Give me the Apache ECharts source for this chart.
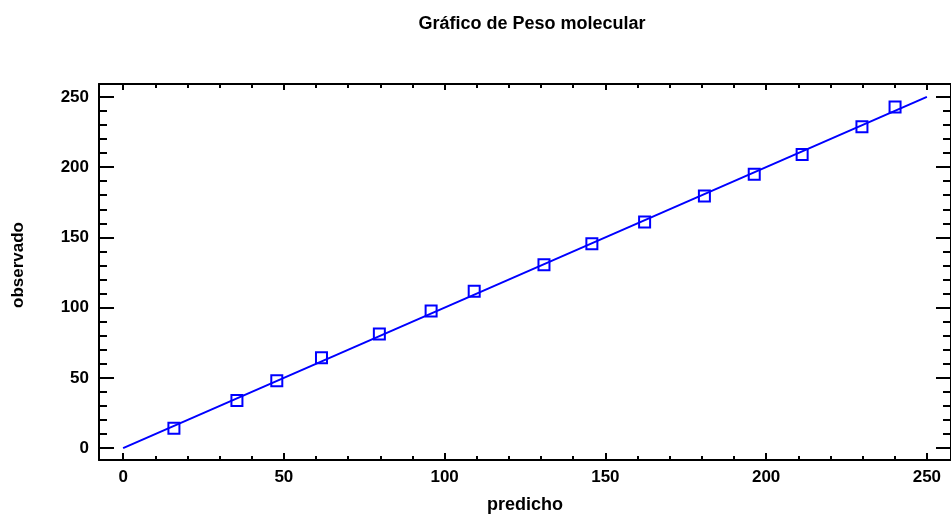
<!DOCTYPE html>
<html>
<head>
<meta charset="utf-8">
<script src="https://cdn.jsdelivr.net/npm/echarts@6/dist/echarts.min.js"></script>
<style>html,body{margin:0;padding:0;background:#fff;}#c{width:951px;height:519px;}</style>
</head>
<body>
<div id="c"></div>
<script>
// Data
var predicho = [15.8, 35.4, 47.8, 61.7, 79.7, 95.8, 109.2, 130.9, 145.8, 162.2, 180.8, 196.3, 211.2, 229.8, 240.1];
var observado = [14.1, 33.9, 48.0, 64.3, 81.2, 97.5, 111.6, 130.6, 145.5, 161.0, 179.4, 194.9, 209.0, 228.8, 242.9];
var fitX = [0, 250];
var fitY = [0, 250];
var majorTicks = [0, 50, 100, 150, 200, 250];
var minorTicks = [10, 20, 30, 40, 60, 70, 80, 90, 110, 120, 130, 140, 160, 170, 180, 190, 210, 220, 230, 240];

var FONT = 'Liberation Sans, Arial, sans-serif';
var XMIN = -7.5, XMAX = 257.5, YMIN = -8.5, YMAX = 259.2;

function axis(dim, pos, ticks, len, showLine, labels, extra) {
  var a = {
    type: 'value', position: pos, min: dim === 'x' ? XMIN : YMIN, max: dim === 'x' ? XMAX : YMAX,
    splitLine: {show: false},
    axisLine: {show: showLine, onZero: false, lineStyle: {color: '#000', width: 2}},
    axisTick: {show: true, inside: true, length: len, customValues: ticks, lineStyle: {color: '#000', width: 2}},
    axisLabel: labels ? {show: true, customValues: majorTicks, fontFamily: FONT, fontWeight: 'bold', fontSize: 17, color: '#000', margin: dim === 'x' ? 9 : 10} : {show: false}
  };
  if (extra) for (var k in extra) a[k] = extra[k];
  return a;
}

var chart = echarts.init(document.getElementById('c'));
chart.setOption({
  animation: false,
  title: {
    text: 'Gráfico de Peso molecular', left: 527, top: 10, textAlign: 'center',
    textStyle: {fontFamily: FONT, fontWeight: 'bold', fontSize: 18, color: '#000'}
  },
  grid: {left: 99, top: 84, width: 854, height: 379, containLabel: false},
  xAxis: [
    axis('x', 'bottom', majorTicks, 7, true, true, {name: 'predicho', nameLocation: 'middle', nameGap: 36,
      nameTextStyle: {fontFamily: FONT, fontWeight: 'bold', fontSize: 18, color: '#000'}}),
    axis('x', 'bottom', minorTicks, 4, false, false),
    axis('x', 'top', majorTicks, 6, true, false),
    axis('x', 'top', minorTicks, 4, false, false)
  ],
  yAxis: [
    axis('y', 'left', majorTicks, 15, true, true, {name: 'observado', nameLocation: 'middle', nameGap: 72,
      nameTextStyle: {fontFamily: FONT, fontWeight: 'bold', fontSize: 17, color: '#000', padding: [0, 0, 0, 14]}}),
    axis('y', 'left', minorTicks, 8, false, false),
    axis('y', 'right', majorTicks, 15, true, false),
    axis('y', 'right', minorTicks, 8, false, false)
  ],
  series: [
    {
      type: 'line', data: fitX.map(function (x, i) { return [x, fitY[i]]; }),
      showSymbol: false, symbol: 'none', lineStyle: {color: '#0000ff', width: 2}, z: 2
    },
    {
      type: 'scatter', data: predicho.map(function (x, i) { return [x, observado[i]]; }),
      symbol: 'rect', symbolSize: 11,
      itemStyle: {color: 'rgba(255,255,255,0)', borderColor: '#0000ff', borderWidth: 2, opacity: 1}, z: 3
    }
  ]
});
</script>
</body>
</html>
